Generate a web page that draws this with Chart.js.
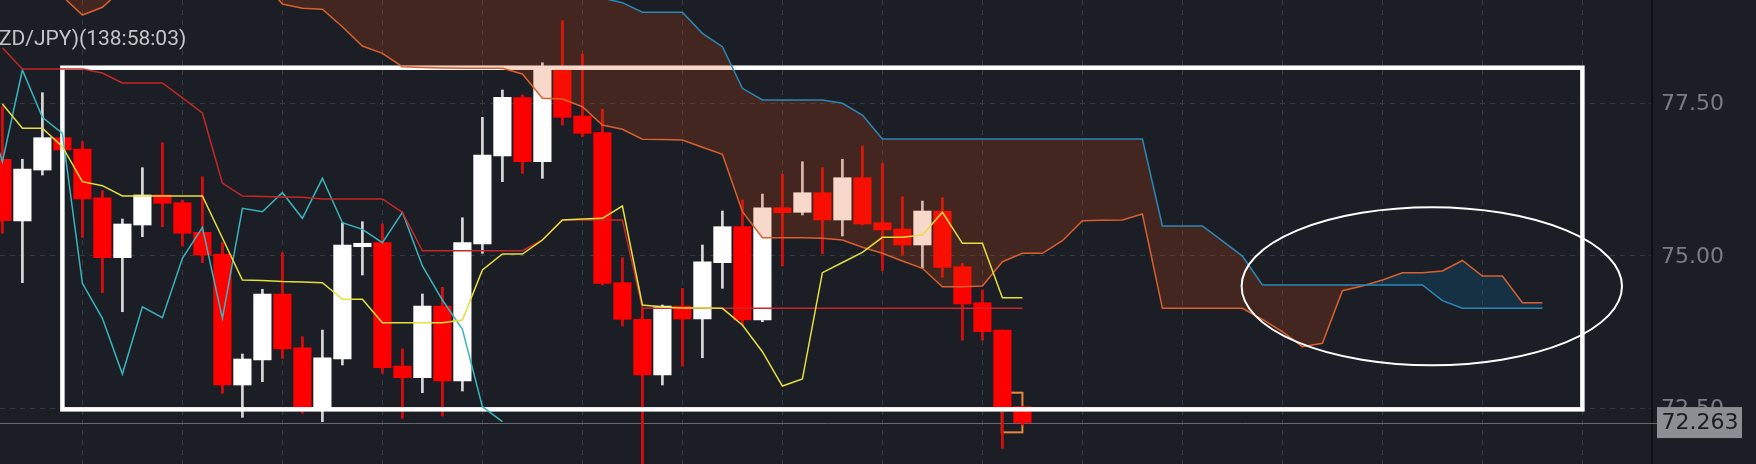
<!DOCTYPE html>
<html><head><meta charset="utf-8">
<script src="https://cdn.jsdelivr.net/npm/chart.js@4.4.1/dist/chart.umd.min.js"></script>
<style>html,body{margin:0;padding:0;background:#1b1e25;overflow:hidden}#wrap{width:1756px;height:464px}</style>
</head><body><div id="wrap"><canvas id="c" width="1756" height="464"></canvas></div>
<script>
// ---- data ----
const symbolLabel = 'ZD/JPY)(138:58:03)';
const yTicks = [72.5, 75.0, 77.5];
const xGridAt = [4, 9, 14, 19, 24, 29, 34, 39, 44, 49, 54, 59, 64, 69, 74, 79];
const lastPrice = 72.263;

const open  = [76.579,75.567,76.403,76.933,76.748,75.949,74.966,75.502,75.994,75.867,75.382,75.026,72.879,73.289,74.371,73.490,72.485,73.305,75.146,75.212,73.190,72.998,74.174,72.944,75.190,76.633,77.589,76.539,78.075,77.289,77.015,74.556,73.956,73.043,74.174,73.961,74.884,75.474,73.944,75.785,75.710,76.031,75.584,76.277,75.539,75.436,75.174,75.731,74.818,74.228,73.780,72.523];
const high  = [77.441,76.579,77.671,77.879,76.867,76.064,75.600,76.441,76.851,75.912,76.293,75.212,73.387,74.448,75.047,73.671,73.780,75.539,75.556,75.518,73.469,74.371,74.480,75.621,77.267,77.715,77.633,78.162,78.851,78.305,77.398,74.966,74.141,74.190,74.464,75.174,75.731,75.912,76.010,76.333,76.539,76.441,76.579,76.797,76.513,75.966,75.895,75.949,74.874,74.436,73.780,72.534];
const low   = [75.366,74.556,76.321,76.621,75.300,74.392,74.080,75.310,75.474,75.157,74.884,72.743,72.349,72.933,73.316,72.415,72.277,73.207,74.682,73.071,72.333,72.753,72.371,72.780,75.038,76.212,76.349,76.267,77.141,76.949,74.518,73.846,71.485,72.879,73.190,73.326,74.464,73.862,73.916,74.830,75.666,75.026,75.321,75.502,74.753,75.010,74.792,74.644,73.616,73.616,71.841,72.223];
const close = [75.572,76.420,76.933,76.731,75.928,74.966,75.518,75.994,75.857,75.366,75.010,72.879,73.305,74.371,73.469,72.497,73.326,75.174,75.202,73.162,72.998,74.174,72.944,75.212,76.649,77.595,76.539,78.092,77.267,77.005,74.546,73.956,73.043,74.174,73.961,74.900,75.474,73.944,75.785,75.703,76.031,75.584,76.277,75.518,75.420,75.174,75.731,74.808,74.207,73.753,72.513,72.263];

const tenkan = [77.485,77.087,77.087,76.785,76.212,76.146,75.977,75.977,75.977,75.977,75.977,75.289,74.600,74.592,74.575,74.567,74.556,74.284,74.284,73.900,73.900,73.900,73.900,73.944,74.764,75.026,75.026,75.256,75.584,75.600,75.611,75.813,74.190,74.157,74.141,74.141,74.136,73.862,73.425,72.862,72.977,74.720,74.887,75.054,75.300,75.300,75.338,75.710,75.202,75.202,74.310,74.310];
const kijun  = [78.408,78.059,78.059,78.059,78.059,77.994,77.830,77.830,77.830,77.584,77.338,76.190,75.977,75.969,75.961,75.956,75.928,75.928,75.928,75.928,75.710,75.080,75.080,75.080,75.080,75.080,75.080,75.256,75.584,75.584,75.584,75.584,74.136,74.136,74.136,74.136,74.136,74.136,74.136,74.136,74.136,74.136,74.136,74.136,74.136,74.136,74.136,74.136,74.136,74.136,74.136,74.136];
const chikouStart = -1;
const chikou = [77.595,76.539,78.043,77.267,77.005,74.546,73.972,73.059,74.162,73.982,74.956,75.464,73.972,75.775,75.720,76.031,75.611,76.267,75.539,75.431,75.212,75.710,74.830,74.272,73.792,72.523,72.277];
const senkouA = [79.45,79.45,79.40,79.25,78.944,79.070,79.37,79.5,79.5,79.5,79.5,79.5,79.5,79.5,79.125,79.054,79.038,78.752,78.436,78.316,78.097,78.084,78.075,78.070,78.070,78.070,77.977,77.579,77.567,77.441,77.141,77.070,76.907,76.903,76.895,76.775,76.661,75.720,75.293,75.293,75.293,75.284,75.256,75.136,75.038,74.911,74.792,74.490,74.490,74.502,74.900,75.038,75.038,75.244,75.572,75.579,75.584,75.682,74.136,74.136,74.136,74.136,74.136,73.956,73.752,73.507,73.562,74.425,74.502,74.600,74.720,74.720,74.748,74.920,74.666,74.666,74.228,74.228];
const senkouB = [79.9,79.9,79.9,79.9,79.9,79.9,79.9,79.9,79.9,79.9,79.9,79.9,79.9,79.9,79.9,79.9,79.9,79.9,79.9,79.9,79.9,79.9,79.9,79.9,79.9,79.9,79.9,79.9,79.9,79.9,79.22,79.146,78.990,78.990,78.990,78.644,78.425,77.743,77.551,77.551,77.551,77.551,77.497,77.305,76.911,76.911,76.911,76.911,76.911,76.911,76.911,76.911,76.911,76.911,76.911,76.911,76.911,76.911,75.485,75.485,75.485,75.240,74.993,74.518,74.518,74.518,74.518,74.518,74.518,74.518,74.518,74.518,74.261,74.136,74.136,74.136,74.136,74.136];

// annotations (in data units)
const frameRect = {x0: 3.0, x1: 79.0, yTop: 78.08, yBot: 72.48};
const focusEllipse = {cx: 71.47, cy: 74.497, rx: 9.51, ry: 1.295};
const markBox = {x0: 49.97, x1: 51.0, yTop: 72.753, yBot: 72.103};

// ---- colours ----
const UP = '#ffffff', DOWN = '#ff0000', UPWICK = '#d9d9d9', DOWNWICK = '#e30b0b';
const BROWN_FILL = 'rgba(216,72,8,0.21)', BLUE_FILL = 'rgba(3,125,185,0.21)';

const isUp = i => close[i] >= open[i];
const pts = (arr, start) => arr.map((v, k) => ({x: k + start, y: v}));

const bgPlugin = {
  id: 'bg',
  beforeDraw(chart) {
    const c = chart.ctx; c.save(); c.fillStyle = '#1b1e25'; c.fillRect(0, 0, chart.width, chart.height); c.restore();
  }
};

const overlay = {
  id: 'overlay',
  beforeDatasetsDraw(chart) {
    const {ctx, chartArea: a, scales: {x, y}} = chart;
    ctx.save();
    ctx.strokeStyle = '#0c0e11'; ctx.lineWidth = 2;
    ctx.beginPath(); ctx.moveTo(a.right + 1, 0); ctx.lineTo(a.right + 1, chart.height); ctx.stroke();
    const py = Math.round(y.getPixelForValue(lastPrice)) + 0.5;
    ctx.strokeStyle = '#64676d'; ctx.lineWidth = 1;
    ctx.beginPath(); ctx.moveTo(a.left, py); ctx.lineTo(a.right + 6, py); ctx.stroke();
    const bx0 = x.getPixelForValue(markBox.x0), bx1 = x.getPixelForValue(markBox.x1);
    const by0 = y.getPixelForValue(markBox.yTop), by1 = y.getPixelForValue(markBox.yBot);
    ctx.strokeStyle = '#e8873e'; ctx.lineWidth = 2;
    ctx.strokeRect(bx0, by0, bx1 - bx0, by1 - by0);
    ctx.restore();
  },
  afterDatasetDraw(chart, args) {
    if (args.index !== 1) return;
    const {ctx, scales: {x, y}} = chart;
    ctx.save();
    const x0 = x.getPixelForValue(frameRect.x0), x1 = x.getPixelForValue(frameRect.x1);
    const y0 = y.getPixelForValue(frameRect.yTop), y1 = y.getPixelForValue(frameRect.yBot);
    ctx.strokeStyle = '#ffffff'; ctx.lineWidth = 4.5;
    ctx.strokeRect(x0, y0, x1 - x0, y1 - y0);
    ctx.restore();
  },
  afterDraw(chart) {
    const {ctx, chartArea: a, scales: {x, y}} = chart;
    ctx.save();
    const cx = x.getPixelForValue(focusEllipse.cx), cy = y.getPixelForValue(focusEllipse.cy);
    const rx = x.getPixelForValue(focusEllipse.cx + focusEllipse.rx) - cx;
    const ry = cy - y.getPixelForValue(focusEllipse.cy + focusEllipse.ry);
    ctx.strokeStyle = '#ffffff'; ctx.lineWidth = 2;
    ctx.beginPath(); ctx.ellipse(cx, cy, rx, ry, 0, 0, Math.PI * 2); ctx.stroke();
    ctx.fillStyle = '#c3c5c8'; ctx.font = '21px Roboto'; ctx.textBaseline = 'alphabetic'; ctx.textAlign = 'left';
    ctx.fillText(symbolLabel, -1, 44.5);
    const py = y.getPixelForValue(lastPrice);
    ctx.fillStyle = '#8b8e93';
    ctx.fillRect(a.right + 6, py - 15.5, 85, 31);
    ctx.fillStyle = '#1a1d22'; ctx.font = '22px "DejaVu Sans"'; ctx.textBaseline = 'middle';
    ctx.fillText(lastPrice.toFixed(3), a.right + 10.5, py + 1);
    ctx.restore();
  }
};

new Chart(document.getElementById('c'), {
  type: 'line',
  data: {
    datasets: [
      { type: 'bar', label: 'wick', order: 10, grouped: false, barThickness: 2,
        data: low.map((l, i) => ({x: i, y: [l, high[i]]})),
        backgroundColor: c => isUp(c.dataIndex) ? UPWICK : DOWNWICK },
      { type: 'bar', label: 'body', order: 9, grouped: false, barThickness: 17.5,
        data: open.map((o, i) => ({x: i, y: [o, close[i]]})),
        backgroundColor: c => isUp(c.dataIndex) ? UP : DOWN },
      { label: 'Senkou A', order: 6, data: pts(senkouA, 0), borderColor: '#d9602e', borderWidth: 1.5,
        pointRadius: 0, tension: 0, fill: {target: 3, above: BLUE_FILL, below: BROWN_FILL} },
      { label: 'Senkou B', order: 5, data: pts(senkouB, 0), borderColor: '#2b87b8', borderWidth: 1.5,
        pointRadius: 0, tension: 0, fill: false },
      { label: 'Chikou', order: 4, data: pts(chikou, chikouStart), borderColor: '#3ab4bd', borderWidth: 1.5,
        pointRadius: 0, tension: 0, fill: false },
      { label: 'Kijun', order: 3, data: pts(kijun, 0), borderColor: '#c42828', borderWidth: 1.5,
        pointRadius: 0, tension: 0, fill: false },
      { label: 'Tenkan', order: 2, data: pts(tenkan, 0), borderColor: '#e6df3e', borderWidth: 1.5,
        pointRadius: 0, tension: 0, fill: false }
    ]
  },
  options: {
    responsive: false, animation: false, devicePixelRatio: 1,
    layout: {padding: 0},
    plugins: {legend: {display: false}, tooltip: {enabled: false}},
    events: [],
    scales: {
      x: {
        type: 'linear', min: -0.12, max: 82.43, offset: false,
        afterFit(s) { s.height = 0; s.paddingLeft = 0; s.paddingRight = 0; },
        afterBuildTicks(s) { s.ticks = xGridAt.map(v => ({value: v})); },
        ticks: {display: false},
        grid: {color: '#363a42', lineWidth: 1, drawTicks: false, offset: false},
        border: {display: false, dash: [5, 5]}
      },
      y: {
        position: 'right', min: 71.584, max: 79.19,
        afterFit(s) { s.width = 105; s.paddingTop = 0; s.paddingBottom = 0; },
        afterBuildTicks(s) { s.ticks = yTicks.map(v => ({value: v})); },
        ticks: {color: '#7a7d83', font: {family: 'DejaVu Sans', size: 22}, padding: 10, labelOffset: 1.5,
                callback: v => Number(v).toFixed(2)},
        grid: {color: '#363a42', lineWidth: 1, drawTicks: false},
        border: {display: false, dash: [5, 5]}
      }
    }
  },
  plugins: [bgPlugin, overlay]
});
</script>
</body></html>
